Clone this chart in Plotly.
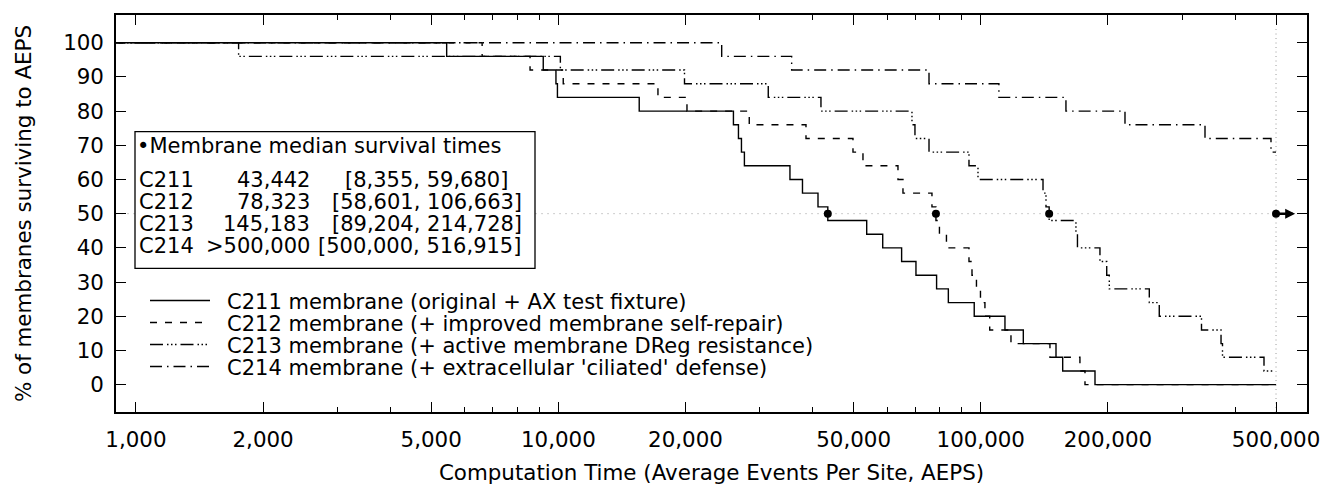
import numpy as np
import plotly.graph_objects as go

# ---------------- data ----------------
start_time = 100          # all membranes alive at the start
end_time = 500000         # observation limit (AEPS)

c211_times = [5440, 9210, 9870, 9950, 15540, 25970, 26690, 27130, 27570, 35340,
              37840, 41180, 43442, 53700, 58600, 64960, 70240, 78600, 83800, 96500,
              114100, 126100, 150700, 156300, 186400]
c211_pct = [96, 92, 88, 84, 80, 76, 72, 68, 64, 60, 56, 52, 48, 44, 40, 36, 32, 28,
            24, 20, 16, 12, 8, 4, 0]

c212_times = [6600, 8570, 10270, 17210, 20160, 28310, 38570, 49830, 52620, 63680,
              65440, 76640, 78323, 79830, 82940, 93780, 95330, 97680, 99840, 102300,
              105000, 117900, 145800, 171700, 176500]
c212_pct = [96, 92, 88, 84, 80, 76, 72, 68, 64, 60, 56, 52, 48, 44, 40, 36, 32, 28,
            24, 20, 16, 12, 8, 4, 0]

c213_times = [1750, 10110, 19890, 31400, 41850, 68730, 69860, 75420, 93780, 98500,
              140400, 142700, 145183, 168000, 169400, 191500, 198700, 201500, 250600,
              264600, 333100, 370500, 373500, 468300]
c213_pct = [96, 92, 88, 84, 80, 76, 72, 68, 64, 60, 56, 52, 48, 44, 40, 36, 32, 28,
            24, 20, 16, 12, 8, 4]

c214_times = [24360, 35670, 75420, 110400, 159100, 219500, 339500, 486500]
c214_pct = [96, 92, 88, 84, 80, 76, 72, 68]

series_names = ["C211 membrane (original + AX test fixture)",
                "C212 membrane (+ improved membrane self-repair)",
                "C213 membrane (+ active membrane DReg resistance)",
                "C214 membrane (+ extracellular 'ciliated' defense)"]
short_names = ["C211", "C212", "C213", "C214"]
median_vals = [43442, 78323, 145183, 500000]
median_labels = ["43,442", "78,323", "145,183", ">500,000"]
ci_labels = ["[8,355, 59,680]", "[58,601, 106,663]", "[89,204, 214,728]",
             "[500,000, 516,915]"]
median_level = 50
arrow_tip = 555000

x_tickvals = [1000, 2000, 5000, 10000, 20000, 50000, 100000, 200000, 500000]
x_ticktext = ["1,000", "2,000", "5,000", "10,000", "20,000", "50,000", "100,000",
              "200,000", "500,000"]
x_minor = [3000, 4000, 6000, 7000, 8000, 9000, 30000, 40000, 60000, 70000, 80000,
           90000, 300000, 400000]
y_tickvals = [0, 10, 20, 30, 40, 50, 60, 70, 80, 90, 100]

# ---------------- styling ----------------
FONT = "DejaVu Sans"
FS = 21.4        # axis text
FS_BOX = 21      # text inside the plot (tight rows)
W, H = 1321, 485
PL, PR, PT, PB = 116, 1307, 15, 412

dashes = ["solid", "7px,8px", "13px,4px,1.5px,2.5px,1.5px,2.5px,1.5px,4px",
          "12px,5px,1.5px,5px"]


def fx(px):
    return (px - PL) / (PR - PL)


def fy(py):
    return (PB - py) / (PB - PT)


fig = go.Figure()

# reference lines (drawn first, under everything)
fig.add_trace(go.Scatter(x=[start_time, end_time], y=[median_level, median_level],
                         mode="lines", line=dict(color="#9a9a9a", width=1, dash="1px,5px"),
                         hoverinfo="skip", showlegend=False))
fig.add_trace(go.Scatter(x=[end_time, end_time], y=[-20, 104],
                         mode="lines", line=dict(color="#9a9a9a", width=1, dash="1px,3.5px"),
                         hoverinfo="skip", showlegend=False))

all_times = [c211_times, c212_times, c213_times, c214_times]
all_pct = [c211_pct, c212_pct, c213_pct, c214_pct]
for i in range(4):
    xs = [start_time] + all_times[i] + [end_time]
    ys = [100] + all_pct[i] + [all_pct[i][-1]]
    fig.add_trace(go.Scatter(x=xs, y=ys, mode="lines", line_shape="hv",
                             line=dict(color="black", width=1.4, dash=dashes[i]),
                             name=series_names[i], showlegend=False))

# median points
fig.add_trace(go.Scatter(x=median_vals, y=[median_level] * 4, mode="markers",
                         marker=dict(color="black", size=8), showlegend=False))

# arrow for censored median
fig.add_annotation(x=np.log10(arrow_tip), y=median_level, ax=np.log10(median_vals[3]),
                   ay=median_level, axref="x", ayref="y", xref="x", yref="y",
                   text="", showarrow=True, arrowhead=2, arrowsize=0.8, arrowwidth=2.5,
                   arrowcolor="black")

# ---------- median table box ----------
shapes = []
shapes.append(dict(type="rect", xref="paper", yref="paper",
                   x0=fx(135), x1=fx(535), y0=fy(268.3), y1=fy(131.7),
                   fillcolor="white", line=dict(color="black", width=1.3), layer="above"))

ann = []


def txt(x, y, s, anchor="left"):
    ann.append(dict(xref="paper", yref="paper", x=fx(x), y=fy(y), text=s,
                    showarrow=False, xanchor=anchor, yanchor="middle",
                    borderpad=0, borderwidth=0,
                    font=dict(family=FONT, size=FS_BOX, color="black")))


txt(137, 146, "\u2022Membrane median survival times")
row_y = [180, 202, 224, 246]
ci_left = [345, 331.5, 331.5, 318]
for i in range(4):
    txt(139, row_y[i], short_names[i])
    txt(309.5, row_y[i], median_labels[i], anchor="right")
    txt(ci_left[i], row_y[i], ci_labels[i])

# ---------- line-style legend ----------
leg_y = [300.5, 322.5, 344.5, 366.5]
for i in range(4):
    shapes.append(dict(type="line", xref="paper", yref="paper",
                       x0=fx(150), x1=fx(210), y0=fy(leg_y[i]), y1=fy(leg_y[i]),
                       line=dict(color="black", width=1.3, dash=dashes[i])))
    txt(227, leg_y[i] + 1, series_names[i])

axis_common = dict(showline=True, linecolor="black", linewidth=1.5, mirror="allticks",
                   ticks="inside", tickcolor="black", tickwidth=1.3, ticklen=10,
                   showgrid=False, zeroline=False, automargin=False,
                   tickfont=dict(family=FONT, size=FS, color="black"))

fig.update_layout(
    width=W, height=H,
    margin=dict(l=PL, r=W - PR, t=PT, b=H - PB, pad=0, autoexpand=False),
    paper_bgcolor="white", plot_bgcolor="white",
    font=dict(family=FONT, size=FS, color="black"),
    shapes=shapes, annotations=fig.layout.annotations + tuple(ann),
    showlegend=False,
    xaxis=dict(type="log", range=[np.log10(897), np.log10(592000)],
               tickmode="array", tickvals=x_tickvals, ticktext=x_ticktext,
               ticklabelstandoff=8,
               minor=dict(tickmode="array", tickvals=x_minor, ticks="inside",
                          ticklen=5, tickcolor="black", tickwidth=1.3),
               title=dict(text="Computation Time (Average Events Per Site, AEPS)",
                          font=dict(family=FONT, size=FS), standoff=15),
               **axis_common),
    yaxis=dict(range=[-8, 108.1], tickmode="array", tickvals=y_tickvals,
               ticklabelstandoff=6,
               title=dict(text="% of membranes surviving to AEPS",
                          font=dict(family=FONT, size=FS), standoff=26),
               **axis_common),
)

fig.write_html("out.html",
               config={"displayModeBar": False},
               post_script="document.body.style.margin='0px';"
                           "document.body.style.padding='0px';"
                           "document.body.style.overflow='hidden';")
